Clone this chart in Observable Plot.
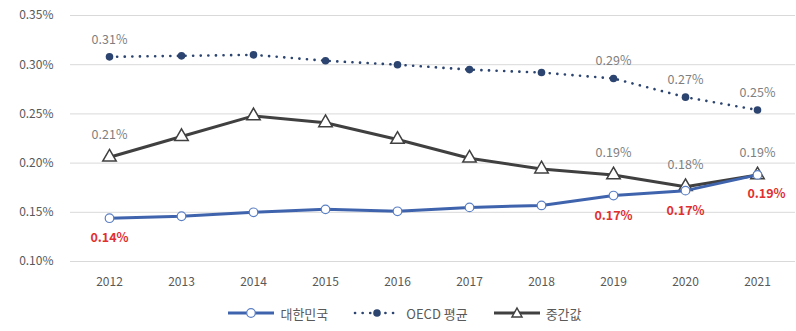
<!DOCTYPE html>
<html><head><meta charset="utf-8">
<script src="https://cdn.jsdelivr.net/npm/d3@7"></script>
<script src="https://cdn.jsdelivr.net/npm/@observablehq/plot@0.6"></script>
<style>
body{margin:0;background:#fff;font-family:"Noto Sans CJK KR","Noto Sans",sans-serif;}
#legend{display:flex;justify-content:center;align-items:center;gap:24px;height:36px;font-size:13px;color:#595959;margin-left:12px}
#legend span{display:flex;align-items:center;gap:4px}
</style></head>
<body><div id="chart"></div><div id="legend"></div>
<script>
const years = [2012,2013,2014,2015,2016,2017,2018,2019,2020,2021];
const korea = [0.144,0.146,0.150,0.153,0.151,0.155,0.157,0.167,0.172,0.188];
const oecd = [0.308,0.309,0.310,0.304,0.300,0.295,0.292,0.286,0.267,0.254];
const median = [0.206,0.227,0.248,0.241,0.224,0.205,0.194,0.188,0.176,0.188];
const seriesNames = ["대한민국","OECD 평균","중간값"];
const koreaLabelYears = [2012,2019,2020];
const koreaLabelYearsRight = [2021];
const oecdLabelYears = [2012,2019,2020,2021];
const medianLabelYears = [2012,2019,2020,2021];
const yTicks = [0.10,0.15,0.20,0.25,0.30,0.35];

const cK = "#3f64ad", cO = "#2c4470", cM = "#404040";
const rows = (vals) => years.map((y,i)=>({year:y, v:vals[i]}));
const K = rows(korea), O = rows(oecd), M = rows(median);
const fmt = v => v.toFixed(2) + "%";
const lab = d => fmt(d.v);

const chart = Plot.plot({
  width:796, height:295, marginLeft:70, marginRight:1, marginTop:15, marginBottom:34,
  style:{fontFamily:"'Noto Sans CJK KR','Noto Sans',sans-serif", fontSize:"12px", color:"#595959"},
  x:{type:"point", domain:years, padding:0.5},
  y:{domain:[0.10,0.35]},
  marks:[
    Plot.gridY(yTicks,{stroke:"#d9d9d9", strokeOpacity:1}),
    Plot.axisY(yTicks,{tickSize:0, tickPadding:17, tickFormat:fmt, fontSize:12, fill:"#595959", label:null}),
    Plot.axisX(years,{tickSize:0, tickPadding:16, fontSize:12, fill:"#595959", tickFormat:d=>String(d), label:null}),
    Plot.line(O,{x:"year", y:"v", stroke:cO, strokeWidth:2.6, strokeDasharray:"0.1 7.5", strokeLinecap:"round"}),
    Plot.dot(O,{x:"year", y:"v", r:3.8, fill:cO, stroke:"none"}),
    Plot.line(M,{x:"year", y:"v", stroke:cM, strokeWidth:3}),
    Plot.dot(M,{x:"year", y:"v", symbol:"triangle", r:5, fill:"white", stroke:cM, strokeWidth:1.5}),
    Plot.line(K,{x:"year", y:"v", stroke:cK, strokeWidth:3}),
    Plot.dot(K,{x:"year", y:"v", r:4.3, fill:"white", stroke:"#5b7fc4", strokeWidth:1.2}),
    Plot.text(O.filter(d=>oecdLabelYears.includes(d.year)),{x:"year", y:"v", text:lab, dy:-17, fill:"#7f7f7f", fontSize:12.5}),
    Plot.text(M.filter(d=>medianLabelYears.includes(d.year)),{x:"year", y:"v", text:lab, dy:-22, fill:"#7f7f7f", fontSize:12.5}),
    Plot.text(K.filter(d=>koreaLabelYears.includes(d.year)),{x:"year", y:"v", text:lab, dy:20, fill:"#e03030", fontWeight:"bold", fontSize:12.5}),
    Plot.text(K.filter(d=>koreaLabelYearsRight.includes(d.year)),{x:"year", y:"v", text:lab, dy:19, dx:9, fill:"#e03030", fontWeight:"bold", fontSize:12.5})
  ]
});
document.getElementById("chart").append(chart);

function sw(kind){
  if(kind===0) return `<svg width="50" height="14"><line x1="2" y1="7" x2="48" y2="7" stroke="${cK}" stroke-width="3"/><circle cx="25" cy="7" r="4.3" fill="white" stroke="#5b7fc4" stroke-width="1.2"/></svg>`;
  if(kind===1) return `<svg width="50" height="14"><line x1="3" y1="7" x2="48" y2="7" stroke="${cO}" stroke-width="2.6" stroke-dasharray="0.1 7.5" stroke-linecap="round"/><circle cx="25" cy="7" r="3.8" fill="${cO}"/></svg>`;
  return `<svg width="50" height="14"><line x1="2" y1="7" x2="48" y2="7" stroke="${cM}" stroke-width="3"/><path d="M25,2 L30,11 L20,11 Z" fill="white" stroke="${cM}" stroke-width="1.5"/></svg>`;
}
document.getElementById("legend").innerHTML = seriesNames.map((n,i)=>`<span>${sw(i)}${n}</span>`).join("");
</script></body></html>
